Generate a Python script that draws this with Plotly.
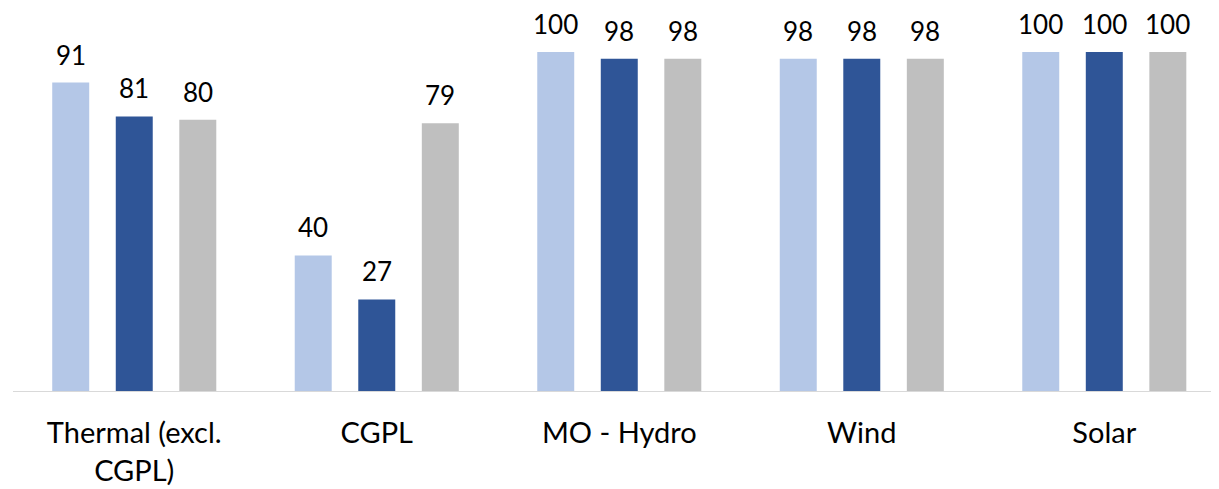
import plotly.graph_objects as go

categories = ["Thermal (excl.<br>CGPL)", "CGPL", "MO - Hydro", "Wind", "Solar"]
series_a = [91, 40, 100, 98, 100]
series_b = [81, 27, 98, 98, 100]
series_c = [80, 79, 98, 98, 100]
colors = ["#B4C7E7", "#2F5597", "#BFBFBF"]

FONT = "Lato"
fig = go.Figure()
all_series = [series_a, series_b, series_c]
for vals, col in zip(all_series, colors):
    fig.add_trace(go.Bar(x=categories, y=vals, marker=dict(color=col, line=dict(width=0)),
                         hoverinfo="skip"))

# value labels
spacing = 0.262
for j, vals in enumerate(all_series):
    for i, v in enumerate(vals):
        fig.add_annotation(x=i + (j - 1) * spacing, y=v, text=str(v), showarrow=False,
                           yanchor="bottom", xanchor="center", yshift=10,
                           font=dict(family=FONT, size=26, color="#000000"))

fig.update_layout(
    width=1211, height=481,
    margin=dict(l=5, r=0, t=0, b=98),
    barmode="group", bargap=0.214, bargroupgap=0.418,
    plot_bgcolor="white", paper_bgcolor="white",
    showlegend=False,
    font=dict(family=FONT, size=26, color="#000000"),
)
fig.update_xaxes(range=[-0.5, 4.473], showline=True, linecolor="#D9D9D9", linewidth=1,
                 ticks="", showgrid=False, ticklabelstandoff=16,
                 tickfont=dict(family=FONT, size=29, color="#000000"))
fig.update_yaxes(range=[0, 113.0], visible=False, showgrid=False)

fig.write_html("out.html")
